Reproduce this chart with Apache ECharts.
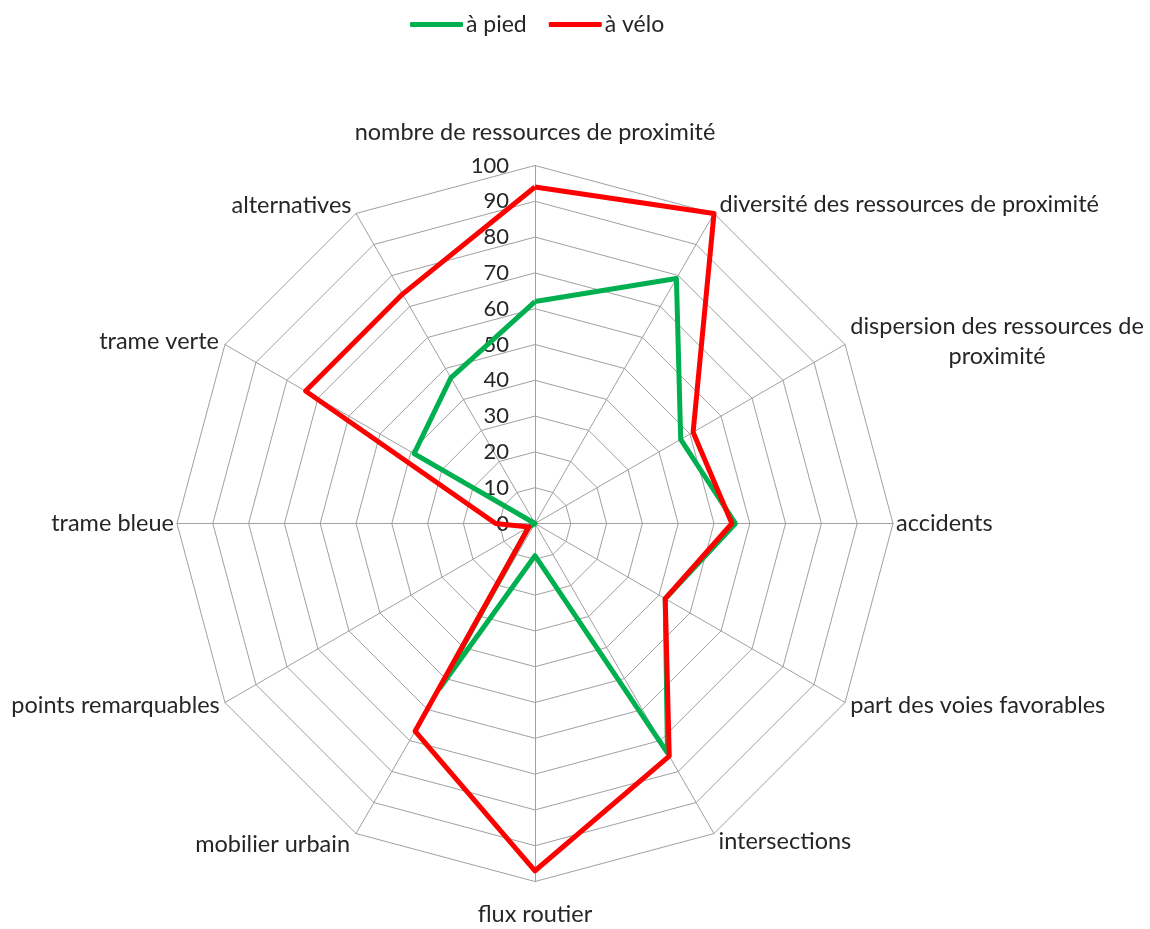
<!DOCTYPE html>
<html>
<head>
<meta charset="utf-8">
<script src="https://cdn.jsdelivr.net/npm/echarts@6/dist/echarts.min.js"></script>
<style>
html,body{margin:0;padding:0;background:#fff;}
#chart{width:1150px;height:929px;}
</style>
</head>
<body>
<div id="chart"></div>
<script>
// Categories listed clockwise from the top, as in the reference
const categories = [
  'nombre de ressources de proximité',
  'diversité des ressources de proximité',
  'dispersion des ressources de proximité',
  'accidents',
  'part des voies favorables',
  'intersections',
  'flux routier',
  'mobilier urbain',
  'points remarquables',
  'trame bleue',
  'trame verte',
  'alternatives'
];
const seriesNames = ['à pied', 'à vélo'];
const aPied = [62, 79, 47, 56, 42, 74, 9, 53, 2, 0, 39, 47];
const aVelo = [94, 100, 51, 55, 42, 75, 97, 67, 2, 11, 74, 74];
const axisMax = 100;
const axisSplits = 10;

const FONT = 'Lato';
const TXT = '#262626';
const NAME_SIZE = 23.5;
const nameGaps = [21, 11, 6, 3, 6, 9, 21, 12, 6, 3, 7, 9];

// ECharts lays indicators counter-clockwise; reorder so they run clockwise.
const n = categories.length;
const order = categories.map(function (_, k) { return (n - k) % n; });

const indicator = order.map(function (i) {
  const ind = { name: categories[i], max: axisMax, min: 0, nameGap: nameGaps[i] };
  if (i === 0) {
    ind.axisLabel = { show: true };
  }
  if (i === 2) {
    ind.name = '{a|dispersion des ressources de}\n{b|proximité}';
    ind.nameTextStyle = {
      rich: {
        a: { fontFamily: FONT, fontSize: NAME_SIZE, color: TXT, lineHeight: 30, align: 'left' },
        b: { fontFamily: FONT, fontSize: NAME_SIZE, color: TXT, lineHeight: 30, align: 'center' }
      }
    };
  }
  return ind;
});
const pick = function (arr) { return order.map(function (i) { return arr[i]; }); };

const chart = echarts.init(document.getElementById('chart'), null, { renderer: 'canvas' });
chart.setOption({
  animation: false,
  backgroundColor: '#ffffff',
  legend: {
    top: 8,
    left: 405,
    data: seriesNames,
    icon: 'roundRect',
    itemWidth: 53,
    itemHeight: 5,
    itemGap: 22,
    textStyle: { fontFamily: FONT, fontSize: 23, color: TXT, padding: [0, 0, 0, -2] }
  },
  radar: {
    center: [535, 523.5],
    radius: 358,
    startAngle: 90,
    shape: 'polygon',
    splitNumber: axisSplits,
    indicator: indicator,
    axisName: { color: TXT, fontFamily: FONT, fontSize: NAME_SIZE },
    axisNameGap: 10,
    axisLine: { show: true, lineStyle: { color: '#a0a0a0', width: 1 } },
    splitLine: { show: true, lineStyle: { color: '#a0a0a0', width: 1 } },
    splitArea: { show: false },
    axisTick: { show: false },
    axisLabel: { show: false, color: TXT, fontFamily: FONT, fontSize: 22, margin: 26 }
  },
  series: [{
    type: 'radar',
    symbol: 'none',
    data: [
      { name: seriesNames[0], value: pick(aPied), lineStyle: { color: '#00b050', width: 5 }, itemStyle: { color: '#00b050' } },
      { name: seriesNames[1], value: pick(aVelo), lineStyle: { color: '#ff0000', width: 5 }, itemStyle: { color: '#ff0000' } }
    ]
  }]
});
</script>
</body>
</html>
